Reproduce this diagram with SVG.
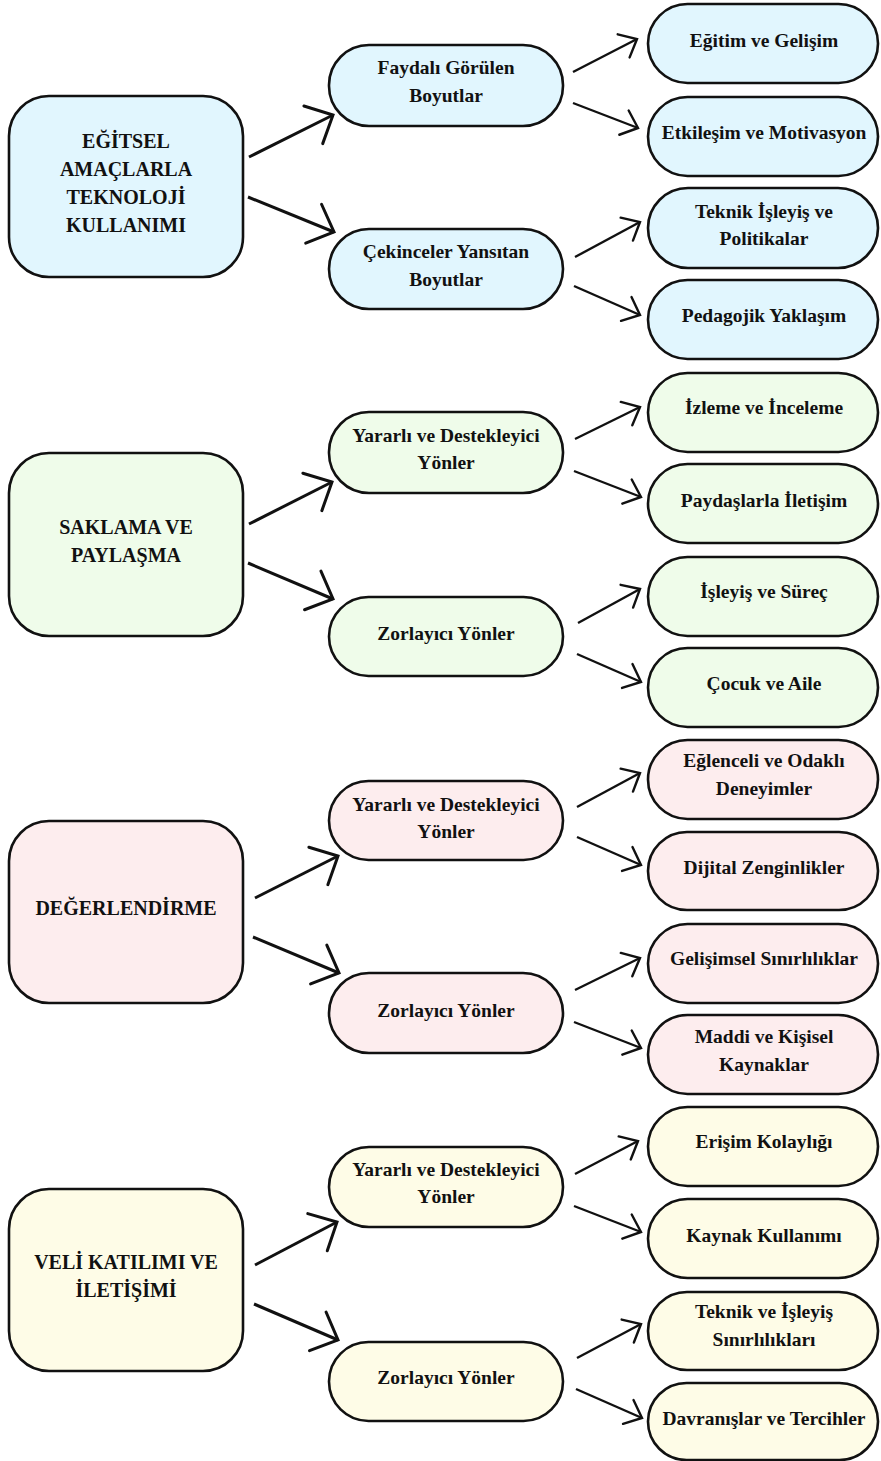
<svg xmlns="http://www.w3.org/2000/svg" width="881" height="1461" viewBox="0 0 881 1461">
<style>
.n{stroke:#111;stroke-width:2.6}
.b{fill:#E1F6FE}.g{fill:#EFFCEA}.p{fill:#FDEDEE}.y{fill:#FEFCE7}
text{font-family:"Liberation Serif","Times New Roman",serif;font-weight:bold;font-size:19.5px;fill:#111;text-anchor:middle}
text.m{font-size:20px}
.big{stroke:#111;stroke-width:3;fill:none;marker-end:url(#hb)}
.sm{stroke:#111;stroke-width:2.4;fill:none;marker-end:url(#hs)}
</style>
<defs>
<marker id="hb" markerUnits="userSpaceOnUse" orient="auto" refX="0" refY="0" markerWidth="40" markerHeight="50" viewBox="-30 -25 40 50" overflow="visible">
<path d="M-22,-21 L0,0 L-22,21" fill="none" stroke="#111" stroke-width="3" stroke-linecap="round" stroke-linejoin="miter"/>
</marker>
<marker id="hs" markerUnits="userSpaceOnUse" orient="auto" refX="0" refY="0" markerWidth="30" markerHeight="40" viewBox="-20 -20 30 40" overflow="visible">
<path d="M-15,-13 L0,0 L-15,13" fill="none" stroke="#111" stroke-width="2.4" stroke-linecap="round" stroke-linejoin="miter"/>
</marker>
</defs>

<g id="connectors">
<path class="big" d="M249,157 L333,115"/>
<path class="big" d="M248,197 L334,232"/>
<path class="sm" d="M573,72 L637,39"/>
<path class="sm" d="M573,103 L638,128"/>
<path class="sm" d="M575,257 L640,222"/>
<path class="sm" d="M574,286 L640,315"/>

<path class="big" d="M249,524 L332,482"/>
<path class="big" d="M248,563 L333,599"/>
<path class="sm" d="M575,439 L640,407"/>
<path class="sm" d="M574,471 L641,497"/>
<path class="sm" d="M578,623 L640,589"/>
<path class="sm" d="M577,654 L641,682"/>

<path class="big" d="M255,898 L338,856"/>
<path class="big" d="M253,937 L339,973"/>
<path class="sm" d="M577,807 L640,773"/>
<path class="sm" d="M577,837 L641,865"/>
<path class="sm" d="M575,990 L640,958"/>
<path class="sm" d="M574,1022 L641,1048"/>

<path class="big" d="M255,1265 L337,1222"/>
<path class="big" d="M254,1304 L338,1340"/>
<path class="sm" d="M575,1174 L638,1141"/>
<path class="sm" d="M574,1206 L641,1232"/>
<path class="sm" d="M577,1358 L641,1324"/>
<path class="sm" d="M576,1389 L642,1418"/>
</g>

<!-- Section 1 -->
<g id="s1-main"><rect class="n b" x="9" y="96" width="234" height="181" rx="40"/>
<text class="m" x="126" y="148">EĞİTSEL</text><text class="m" x="126" y="176">AMAÇLARLA</text><text class="m" x="126" y="204">TEKNOLOJİ</text><text class="m" x="126" y="232">KULLANIMI</text></g>
<g id="s1-mid1"><rect class="n b" x="329" y="45" width="234" height="81" rx="40"/>
<text x="446" y="74">Faydalı Görülen</text><text x="446" y="102">Boyutlar</text></g>
<g id="s1-mid2"><rect class="n b" x="329" y="229" width="234" height="80" rx="40"/>
<text x="446" y="258">Çekinceler Yansıtan</text><text x="446" y="286">Boyutlar</text></g>
<g id="s1-r1"><rect class="n b" x="648" y="4" width="230" height="79" rx="39.5"/><text x="764" y="47">Eğitim ve Gelişim</text></g>
<g id="s1-r2"><rect class="n b" x="648" y="97" width="230" height="79" rx="39.5"/><text x="764" y="139">Etkileşim ve Motivasyon</text></g>
<g id="s1-r3"><rect class="n b" x="648" y="188" width="230" height="80" rx="40"/><text x="764" y="218">Teknik İşleyiş ve</text><text x="764" y="245">Politikalar</text></g>
<g id="s1-r4"><rect class="n b" x="648" y="280" width="230" height="79" rx="39.5"/><text x="764" y="322">Pedagojik Yaklaşım</text></g>

<!-- Section 2 -->
<g id="s2-main"><rect class="n g" x="9" y="453" width="234" height="183" rx="40"/>
<text class="m" x="126" y="534">SAKLAMA VE</text><text class="m" x="126" y="562">PAYLAŞMA</text></g>
<g id="s2-mid1"><rect class="n g" x="329" y="412" width="234" height="81" rx="40"/>
<text x="446" y="442">Yararlı ve Destekleyici</text><text x="446" y="469">Yönler</text></g>
<g id="s2-mid2"><rect class="n g" x="329" y="597" width="234" height="79" rx="39.5"/>
<text x="446" y="640">Zorlayıcı Yönler</text></g>
<g id="s2-r1"><rect class="n g" x="648" y="373" width="230" height="79" rx="39.5"/><text x="764" y="414">İzleme ve İnceleme</text></g>
<g id="s2-r2"><rect class="n g" x="648" y="464" width="230" height="79" rx="39.5"/><text x="764" y="507">Paydaşlarla İletişim</text></g>
<g id="s2-r3"><rect class="n g" x="648" y="557" width="230" height="79" rx="39.5"/><text x="764" y="598">İşleyiş ve Süreç</text></g>
<g id="s2-r4"><rect class="n g" x="648" y="648" width="230" height="79" rx="39.5"/><text x="764" y="690">Çocuk ve Aile</text></g>

<!-- Section 3 -->
<g id="s3-main"><rect class="n p" x="9" y="821" width="234" height="182" rx="40"/>
<text class="m" x="126" y="915">DEĞERLENDİRME</text></g>
<g id="s3-mid1"><rect class="n p" x="329" y="781" width="234" height="79" rx="39.5"/>
<text x="446" y="811">Yararlı ve Destekleyici</text><text x="446" y="838">Yönler</text></g>
<g id="s3-mid2"><rect class="n p" x="329" y="973" width="234" height="80" rx="40"/>
<text x="446" y="1017">Zorlayıcı Yönler</text></g>
<g id="s3-r1"><rect class="n p" x="648" y="740" width="230" height="79" rx="39.5"/><text x="764" y="767">Eğlenceli ve Odaklı</text><text x="764" y="795">Deneyimler</text></g>
<g id="s3-r2"><rect class="n p" x="648" y="832" width="230" height="78" rx="39"/><text x="764" y="874">Dijital Zenginlikler</text></g>
<g id="s3-r3"><rect class="n p" x="648" y="924" width="230" height="79" rx="39.5"/><text x="764" y="965">Gelişimsel Sınırlılıklar</text></g>
<g id="s3-r4"><rect class="n p" x="648" y="1015" width="230" height="79" rx="39.5"/><text x="764" y="1043">Maddi ve Kişisel</text><text x="764" y="1071">Kaynaklar</text></g>

<!-- Section 4 -->
<g id="s4-main"><rect class="n y" x="9" y="1189" width="234" height="182" rx="40"/>
<text class="m" x="126" y="1269">VELİ KATILIMI VE</text><text class="m" x="126" y="1297">İLETİŞİMİ</text></g>
<g id="s4-mid1"><rect class="n y" x="329" y="1147" width="234" height="80" rx="40"/>
<text x="446" y="1176">Yararlı ve Destekleyici</text><text x="446" y="1203">Yönler</text></g>
<g id="s4-mid2"><rect class="n y" x="329" y="1342" width="234" height="79" rx="39.5"/>
<text x="446" y="1384">Zorlayıcı Yönler</text></g>
<g id="s4-r1"><rect class="n y" x="648" y="1107" width="230" height="79" rx="39.5"/><text x="764" y="1148">Erişim Kolaylığı</text></g>
<g id="s4-r2"><rect class="n y" x="648" y="1199" width="230" height="79" rx="39.5"/><text x="764" y="1242">Kaynak Kullanımı</text></g>
<g id="s4-r3"><rect class="n y" x="648" y="1292" width="230" height="78" rx="39"/><text x="764" y="1318">Teknik ve İşleyiş</text><text x="764" y="1346">Sınırlılıkları</text></g>
<g id="s4-r4"><rect class="n y" x="648" y="1383" width="230" height="77" rx="38.5"/><text x="764" y="1425">Davranışlar ve Tercihler</text></g>
</svg>
